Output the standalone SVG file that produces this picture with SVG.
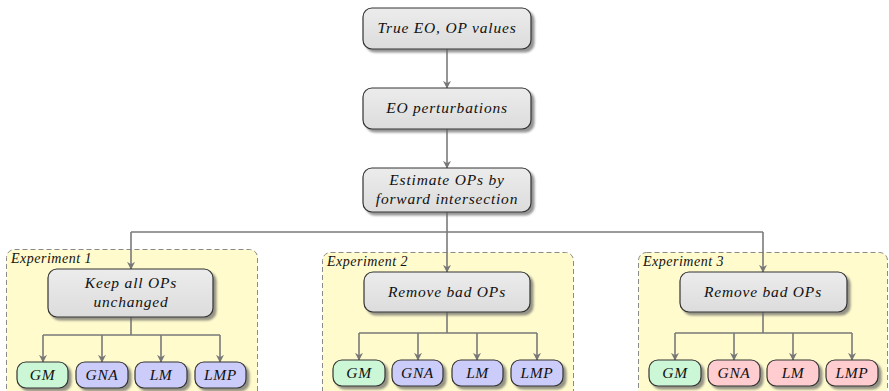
<svg xmlns="http://www.w3.org/2000/svg" width="889" height="391" viewBox="0 0 889 391">
<defs>
<filter id="sh" x="-20%" y="-20%" width="140%" height="160%">
<feDropShadow dx="3" dy="3" stdDeviation="1.2" flood-color="#666" flood-opacity="0.7"/>
</filter>
<linearGradient id="gg" x1="0" y1="0" x2="0" y2="1">
<stop offset="0" stop-color="#ececec"/><stop offset="1" stop-color="#dcdcdc"/>
</linearGradient>
<marker id="ah" viewBox="0 0 10 10" refX="9" refY="5" markerWidth="8" markerHeight="8" markerUnits="userSpaceOnUse" orient="auto">
<path d="M0,0 L10,5 L0,10 L3,5 Z" fill="#777"/>
</marker>
<style>
.cont{fill:#fffbcc;stroke:#8a8a8a;stroke-width:1;stroke-dasharray:5,3}
.node{fill:url(#gg);stroke:#333;stroke-width:1.2;filter:url(#sh)}
.gm{fill:#ccf7d6;stroke:#333;stroke-width:1.2;filter:url(#sh)}
.bl{fill:#ccccfa;stroke:#333;stroke-width:1.2;filter:url(#sh)}
.pk{fill:#ffcccf;stroke:#333;stroke-width:1.2;filter:url(#sh)}
text{font-style:italic;fill:#111}
.t{font-size:15.5px;text-anchor:middle;letter-spacing:0.8px}
.l{font-size:15.5px;text-anchor:middle;letter-spacing:0.6px}
.e{font-size:14px;letter-spacing:0.5px}
.c{fill:none;stroke:#7a7a7a;stroke-width:1.6}
</style>
</defs>
<g font-family="'Liberation Serif', 'DejaVu Serif', serif">
<g id="exp1"><rect class="cont" x="6.5" y="249.5" width="251" height="160" rx="8"/><text class="e" x="11" y="263">Experiment 1</text></g>
<g id="exp2"><rect class="cont" x="322.5" y="252.5" width="251" height="160" rx="8"/><text class="e" x="327" y="266">Experiment 2</text></g>
<g id="exp3"><rect class="cont" x="638.5" y="252.5" width="249" height="160" rx="8"/><text class="e" x="643" y="266">Experiment 3</text></g>
<g id="connectors">
<path class="c" d="M447,49 V88" marker-end="url(#ah)"/>
<path class="c" d="M447,129 V168" marker-end="url(#ah)"/>
<path class="c" d="M447,212 V272" marker-end="url(#ah)"/>
<path class="c" d="M131,232 H763"/>
<path class="c" d="M131,232 V269" marker-end="url(#ah)"/>
<path class="c" d="M763,232 V272" marker-end="url(#ah)"/>
<path class="c" d="M131,317 V335 M43,335 H220"/>
<path class="c" d="M43,335 V362" marker-end="url(#ah)"/>
<path class="c" d="M102,335 V362" marker-end="url(#ah)"/>
<path class="c" d="M161,335 V362" marker-end="url(#ah)"/>
<path class="c" d="M220,335 V362" marker-end="url(#ah)"/>
<path class="c" d="M447,312 V333 M359,333 H537"/>
<path class="c" d="M359,333 V360" marker-end="url(#ah)"/>
<path class="c" d="M418,333 V360" marker-end="url(#ah)"/>
<path class="c" d="M477,333 V360" marker-end="url(#ah)"/>
<path class="c" d="M537,333 V360" marker-end="url(#ah)"/>
<path class="c" d="M763,312 V333 M675,333 H852"/>
<path class="c" d="M675,333 V360" marker-end="url(#ah)"/>
<path class="c" d="M734,333 V360" marker-end="url(#ah)"/>
<path class="c" d="M793,333 V360" marker-end="url(#ah)"/>
<path class="c" d="M852,333 V360" marker-end="url(#ah)"/>
</g>
<g id="n-true"><rect class="node" x="363" y="8" width="168" height="41" rx="9"/><text class="t" x="447" y="33">True EO, OP values</text></g>
<g id="n-pert"><rect class="node" x="363" y="88" width="168" height="41" rx="9"/><text class="t" x="447" y="113">EO perturbations</text></g>
<g id="n-est"><rect class="node" x="363" y="168" width="168" height="44" rx="9"/><text class="t" x="447" y="185">Estimate OPs by</text><text class="t" x="447" y="204">forward intersection</text></g>
<g id="n-keep"><rect class="node" x="48" y="269" width="165" height="48" rx="9"/><text class="t" x="131" y="288">Keep all OPs</text><text class="t" x="131" y="307">unchanged</text></g>
<g id="n-rem2"><rect class="node" x="364" y="272" width="166" height="40" rx="9"/><text class="t" x="447" y="297">Remove bad OPs</text></g>
<g id="n-rem3"><rect class="node" x="680" y="272" width="167" height="40" rx="9"/><text class="t" x="763" y="297">Remove bad OPs</text></g>
<g id="e1-gm"><rect class="gm" x="17" y="362" width="51" height="26" rx="9"/><text class="l" x="42.5" y="380">GM</text></g>
<g id="e1-gna"><rect class="bl" x="76" y="362" width="52" height="26" rx="9"/><text class="l" x="102" y="380">GNA</text></g>
<g id="e1-lm"><rect class="bl" x="135" y="362" width="52" height="26" rx="9"/><text class="l" x="161" y="380">LM</text></g>
<g id="e1-lmp"><rect class="bl" x="195" y="362" width="51" height="26" rx="9"/><text class="l" x="220.5" y="380">LMP</text></g>
<g id="e2-gm"><rect class="gm" x="333" y="360" width="52" height="26" rx="9"/><text class="l" x="359" y="378">GM</text></g>
<g id="e2-gna"><rect class="bl" x="392" y="360" width="51" height="26" rx="9"/><text class="l" x="417.5" y="378">GNA</text></g>
<g id="e2-lm"><rect class="bl" x="452" y="360" width="51" height="26" rx="9"/><text class="l" x="477.5" y="378">LM</text></g>
<g id="e2-lmp"><rect class="bl" x="511" y="360" width="52" height="26" rx="9"/><text class="l" x="537" y="378">LMP</text></g>
<g id="e3-gm"><rect class="gm" x="649" y="360" width="52" height="26" rx="9"/><text class="l" x="675" y="378">GM</text></g>
<g id="e3-gna"><rect class="pk" x="708" y="360" width="52" height="26" rx="9"/><text class="l" x="734" y="378">GNA</text></g>
<g id="e3-lm"><rect class="pk" x="767" y="360" width="52" height="26" rx="9"/><text class="l" x="793" y="378">LM</text></g>
<g id="e3-lmp"><rect class="pk" x="826" y="360" width="52" height="26" rx="9"/><text class="l" x="852" y="378">LMP</text></g>
</g>
</svg>
